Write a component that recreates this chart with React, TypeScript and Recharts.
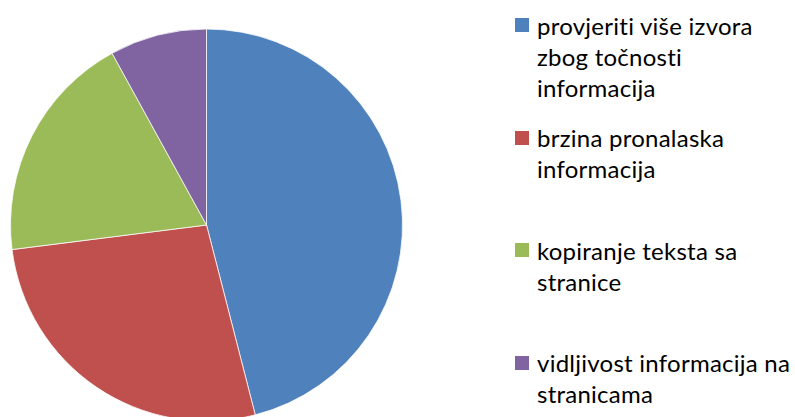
import { PieChart, Pie, Cell, Legend } from "recharts"

const categories = [
  "provjeriti više izvora zbog točnosti informacija",
  "brzina pronalaska informacija",
  "kopiranje teksta sa stranice",
  "vidljivost informacija na stranicama",
]
const values = [46, 27, 19, 8]
const COLORS = ["#4F81BD", "#C0504D", "#9BBB59", "#8064A2"]

const data = categories.map((name, i) => ({ name, value: values[i], color: COLORS[i] }))

const FONT = "Lato, 'Open Sans', sans-serif"

// Excel-style legend: entries spread evenly, text wraps
function renderLegend() {
  return (
    <div style={{ fontFamily: FONT, fontSize: 24, letterSpacing: 0.25, color: "#000" }}>
      {data.map((entry, i) => (
        <div key={`leg-${i}`} style={{ display: "flex", alignItems: "flex-start", height: 112.5 }}>
          <div style={{ width: 14, height: 14, marginTop: 8.5, marginRight: 8, background: entry.color, flex: "none" }} />
          <div style={{ width: 262, lineHeight: "31px" }}>{entry.name}</div>
        </div>
      ))}
    </div>
  )
}

export default function App() {
  return (
    <div style={{ position: "absolute", left: 0, top: 0, width: 795, height: 417, background: "#fff", overflow: "hidden" }}>
      <PieChart width={795} height={417} margin={{ top: 0, right: 0, bottom: 0, left: 0 }}>
        <Pie
          data={data}
          dataKey="value"
          nameKey="name"
          cx={206.5}
          cy={225}
          outerRadius={196}
          startAngle={90}
          endAngle={-270}
          stroke="#fff"
          strokeWidth={0.75}
          isAnimationActive={false}
        >
          {data.map((entry, index) => (
            <Cell key={`cell-${index}`} fill={entry.color} />
          ))}
        </Pie>
        <Legend
          layout="vertical"
          verticalAlign="top"
          align="right"
          content={renderLegend}
          wrapperStyle={{ left: 515, top: 9.5, width: 280 }}
        />
      </PieChart>
    </div>
  )
}
